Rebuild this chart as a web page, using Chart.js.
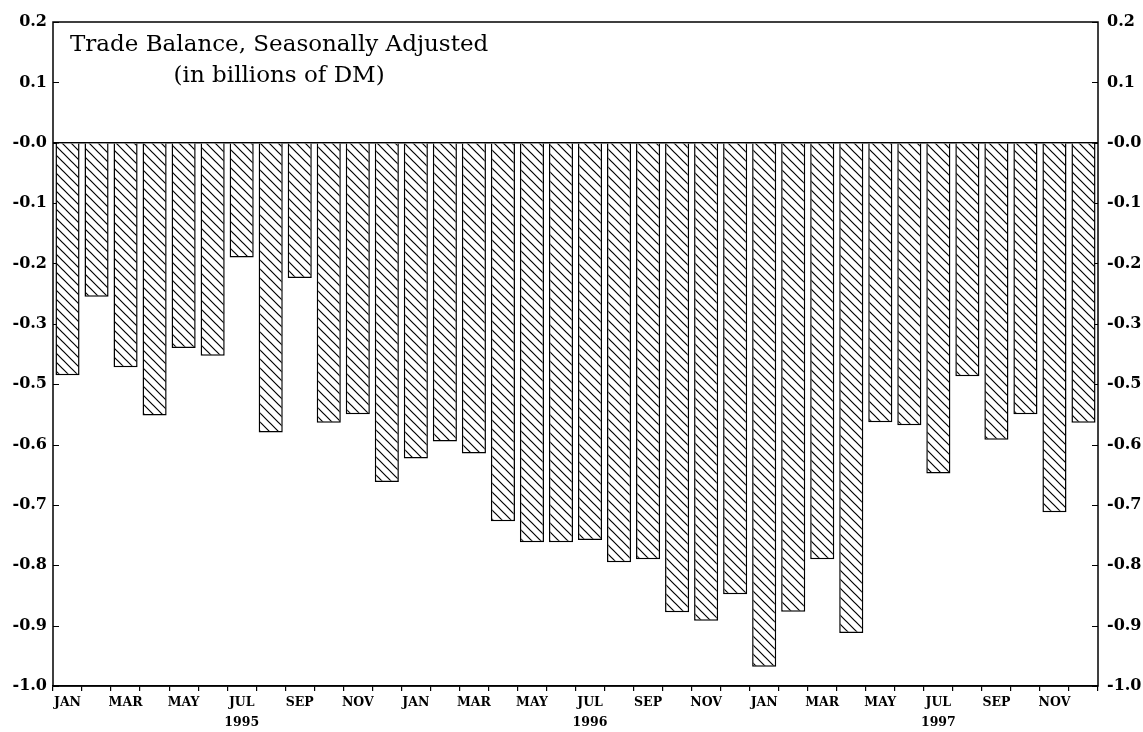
<!DOCTYPE html>
<html>
<head>
<meta charset="utf-8">
<title>Trade Balance, Seasonally Adjusted</title>
<script src="https://cdn.jsdelivr.net/npm/chart.js@4.4.1/dist/chart.umd.min.js"></script>
<style>
    html, body { margin: 0; padding: 0; background: #fff; }
    #wrap { width: 1143px; height: 732px; position: relative; }
</style>
</head>
<body>
<div id="wrap"><canvas id="tradeChart"></canvas></div>
<script>
// Months and years on the x axis
const monthNames = ['JAN', 'FEB', 'MAR', 'APR', 'MAY', 'JUN', 'JUL', 'AUG', 'SEP', 'OCT', 'NOV', 'DEC'];
const years = ['1995', '1996', '1997'];

// Trade balance per month (billions of DM)
const balance1995 = [-0.385, -0.255, -0.372, -0.452, -0.340, -0.353, -0.190, -0.480, -0.224, -0.464, -0.450, -0.562];
const balance1996 = [-0.523, -0.495, -0.515, -0.627, -0.662, -0.662, -0.658, -0.695, -0.690, -0.778, -0.792, -0.748];
const balance1997 = [-0.868, -0.777, -0.690, -0.812, -0.463, -0.468, -0.548, -0.387, -0.492, -0.450, -0.612, -0.464];

// Printed tick labels on both value axes, bottom to top (the scan skips -0.4)
const yTickLabels = ['-1.0', '-0.9', '-0.8', '-0.7', '-0.6', '-0.5', '-0.3', '-0.2', '-0.1', '-0.0', '0.1', '0.2'];

const titleLines = ['Trade Balance, Seasonally Adjusted', '(in billions of DM)'];

// Build categories and the series from the small arrays
const categories = [];
years.forEach(y => monthNames.forEach(m => categories.push(m + ' ' + y)));
const tradeBalance = balance1995.concat(balance1996, balance1997);

// Hatch pattern for the bars
function makeHatch() {
    const size = 9;
    const c = document.createElement('canvas');
    c.width = size;
    c.height = size;
    const g = c.getContext('2d');
    g.fillStyle = '#fff';
    g.fillRect(0, 0, size, size);
    g.strokeStyle = '#000';
    g.lineWidth = 1.2;
    g.beginPath();
    g.moveTo(-1, -1); g.lineTo(size + 1, size + 1);
    g.moveTo(-1, size - 1); g.lineTo(1, size + 1);
    g.moveTo(size - 1, -1); g.lineTo(size + 1, 1);
    g.stroke();
    return g.createPattern(c, 'repeat');
}

function yLabel(value) {
    const idx = Math.round(value * 10) + 9;
    return yTickLabels[idx] !== undefined ? yTickLabels[idx] : '';
}

function xLabel(value, index) {
    if (index % 2 !== 0) return '';
    const m = monthNames[index % 12];
    if (m === 'JUL') return [m, years[Math.floor(index / 12)]];
    return m;
}

const serif = '"DejaVu Serif", "Liberation Serif", serif';

// Frame, inward ticks and the title text inside the plot
const framePlugin = {
    id: 'frame',
    beforeDatasetsDraw(chart) {
        const { ctx, chartArea: a, scales } = chart;
        ctx.save();
        ctx.strokeStyle = '#000';
        ctx.lineWidth = 1.2;
        scales.y.ticks.forEach(t => {
            const py = Math.round(scales.y.getPixelForValue(t.value)) + 0.5;
            ctx.beginPath();
            ctx.moveTo(a.left, py);
            ctx.lineTo(a.left + 6, py);
            ctx.moveTo(a.right, py);
            ctx.lineTo(a.right - 6, py);
            ctx.stroke();
        });
        ctx.restore();
    },
    afterDraw(chart) {
        const { ctx, chartArea: a } = chart;
        ctx.save();
        ctx.strokeStyle = '#000';
        ctx.lineWidth = 1.5;
        ctx.strokeRect(a.left, a.top, a.right - a.left, a.bottom - a.top);

        ctx.fillStyle = '#000';
        ctx.font = '23px ' + serif;
        ctx.textBaseline = 'alphabetic';
        ctx.textAlign = 'left';
        const x0 = a.left + 17;
        const w0 = ctx.measureText(titleLines[0]).width;
        ctx.fillText(titleLines[0], x0, a.top + 29);
        ctx.textAlign = 'center';
        ctx.fillText(titleLines[1], x0 + w0 / 2, a.top + 60);
        ctx.restore();
    }
};

const config = {
    type: 'bar',
    data: {
        labels: categories,
        datasets: [{
            label: 'Trade balance',
            data: tradeBalance,
            backgroundColor: makeHatch(),
            borderColor: '#000',
            borderWidth: 1.5,
            barPercentage: 0.83,
            categoryPercentage: 1.0
        }]
    },
    options: {
        responsive: true,
        maintainAspectRatio: false,
        animation: false,
        layout: { padding: { top: 22, left: 0, right: 0, bottom: 0 } },
        plugins: {
            legend: { display: false },
            tooltip: { enabled: false }
        },
        scales: {
            x: {
                type: 'category',
                offset: true,
                grid: {
                    offset: true,
                    drawOnChartArea: false,
                    drawTicks: true,
                    tickLength: 5,
                    color: '#000',
                    lineWidth: 1.2
                },
                border: { display: true, color: '#000', width: 1.5 },
                ticks: {
                    autoSkip: false,
                    maxRotation: 0,
                    minRotation: 0,
                    padding: 2,
                    color: '#000',
                    font: { family: serif, size: 12.5, weight: 'bold', lineHeight: 1.6 },
                    callback: xLabel
                },
                afterFit(scale) { scale.height = 46; }
            },
            y: {
                position: 'left',
                min: -0.9,
                max: 0.2,
                ticks: {
                    stepSize: 0.1,
                    padding: 6,
                    color: '#000',
                    font: { family: serif, size: 16, weight: 'bold' },
                    callback: yLabel
                },
                grid: {
                    drawTicks: false,
                    lineWidth: 1.5,
                    color: ctx => (ctx.tick && Math.abs(ctx.tick.value) < 1e-9) ? '#000' : 'rgba(0,0,0,0)'
                },
                border: { display: false },
                afterFit(scale) { scale.width = 53; }
            },
            y2: {
                position: 'right',
                min: -0.9,
                max: 0.2,
                ticks: {
                    stepSize: 0.1,
                    padding: 9,
                    color: '#000',
                    font: { family: serif, size: 16, weight: 'bold' },
                    callback: yLabel
                },
                grid: { display: false, drawTicks: false },
                border: { display: false },
                afterFit(scale) { scale.width = 45; }
            }
        }
    },
    plugins: [framePlugin]
};

new Chart(document.getElementById('tradeChart').getContext('2d'), config);
</script>
</body>
</html>
